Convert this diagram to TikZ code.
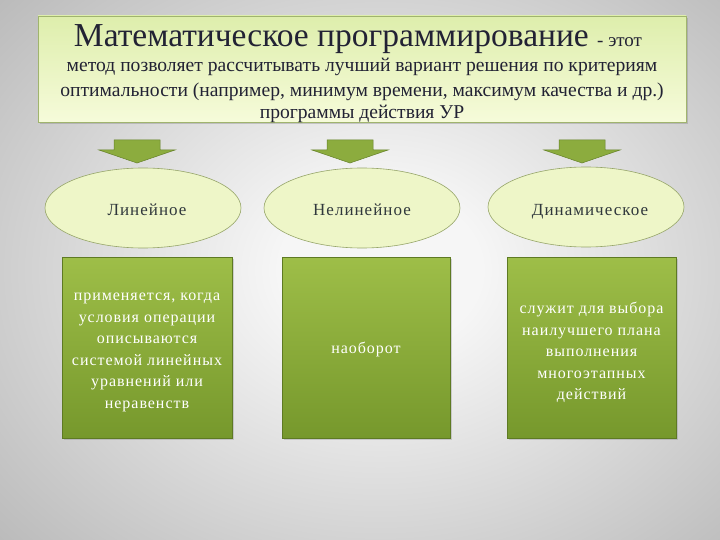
\documentclass[tikz,border=0pt]{standalone}
\usepackage{fontspec}
\setmainfont{Liberation Serif}
\newfontfamily\spacedfont[LetterSpace=6]{Liberation Serif}
\usetikzlibrary{shapes.geometric,shadows}
\definecolor{bgin}{RGB}{246,246,246}
\definecolor{bgout}{RGB}{140,140,140}
\definecolor{toptop}{RGB}{222,238,172}
\definecolor{topbot}{RGB}{246,251,218}
\definecolor{topline}{RGB}{160,180,110}
\definecolor{titlecol}{RGB}{34,34,52}
\definecolor{elfill}{RGB}{238,246,200}
\definecolor{elline}{RGB}{150,165,105}
\definecolor{eltext}{RGB}{48,56,60}
\definecolor{boxtop}{RGB}{158,190,72}
\definecolor{boxbot}{RGB}{118,152,44}
\definecolor{arrfill}{RGB}{140,172,62}
\definecolor{arrline}{RGB}{100,128,40}
\pgfdeclareradialshading{bgshade}{\pgfpoint{0bp}{0bp}}{color(0bp)=(bgin); color(6bp)=(bgin); color(50bp)=(bgout)}
\tikzset{
  topbox/.style={draw=topline, line width=0.6pt, top color=toptop, bottom color=topbot, drop shadow={opacity=0.35, shadow xshift=2pt, shadow yshift=-2pt}},
  ell/.style={ellipse, draw=elline, line width=0.6pt, fill=elfill, minimum width=196, minimum height=80, inner sep=0pt, font=\spacedfont\fontsize{17}{20}\selectfont, text=eltext},
  elltext/.style={inner sep=0pt, anchor=base, font=\spacedfont\fontsize{17}{20}\selectfont, text=eltext},
  gbox/.style={rectangle, draw=boxbot!80!black, line width=0.4pt, top color=boxtop, bottom color=boxbot, minimum height=181, inner sep=0pt, drop shadow={opacity=0.3, shadow xshift=2pt, shadow yshift=-2pt}},
  boxtext/.style={inner sep=0pt, text=white, align=center, font=\spacedfont\fontsize{16}{21.6}\selectfont, yshift=-5pt},
  blockarrow/.style={fill=arrfill, draw=arrline, line width=0.5pt, line join=miter},
  ttext/.style={text=titlecol, inner sep=0pt, anchor=base}
}
\newcommand{\downarrowat}[1]{%
  \path[blockarrow] (#1) ++(-23,0) -- ++(46,0) -- ++(0,10) -- ++(15,0) -- ++(-38,13) -- ++(-38,-13) -- ++(15,0) -- cycle;}
\begin{document}
\begin{tikzpicture}[x=1pt,y=-1pt]
\useasboundingbox (0,0) rectangle (720,540);
\shade[shading=bgshade] (-40,-60) rectangle (800,600);
% top box
\path[topbox] (38,16) rectangle (686,122);
\node[ttext] (title) at (358,47) {\fontsize{33.5}{36}\selectfont Математическое программирование \fontsize{19}{20}\selectfont - этот};
\node[ttext] (l1) at (362,72) {\fontsize{19.6}{22}\selectfont метод позволяет рассчитывать лучший вариант решения по критериям};
\node[ttext] (l2) at (362,97) {\fontsize{19.6}{22}\selectfont оптимальности (например, минимум времени, максимум качества и др.)};
\node[ttext] (l3) at (362,119) {\fontsize{19.6}{22}\selectfont программы действия УР};
% arrows
\coordinate (a1) at (137,140);
\coordinate (a2) at (350,140);
\coordinate (a3) at (582,140);
\downarrowat{a1}
\downarrowat{a2}
\downarrowat{a3}
% ellipses
\node[ell] (e1) at (143,208) {};
\node[ell] (e2) at (362,208) {};
\node[ell] (e3) at (586,207) {};
\node[elltext] (et1) at (147,215) {Линейное};
\node[elltext] (et2) at (362,215) {Нелинейное};
\node[elltext] (et3) at (590,215) {Динамическое};
% boxes
\node[gbox, minimum width=170] (b1) at (147,347.5) {};
\node[gbox, minimum width=168] (b2) at (366,347.5) {};
\node[gbox, minimum width=169] (b3) at (591.5,347.5) {};
\node[boxtext] (t1) at (b1.center) {применяется, когда\\условия операции\\описываются\\системой линейных\\уравнений или\\неравенств};
\node[boxtext, yshift=3pt] (t2) at (b2.center) {наоборот};
\node[boxtext] (t3) at (b3.center) {служит для выбора\\наилучшего плана\\выполнения\\многоэтапных\\действий};
\end{tikzpicture}
\end{document}
